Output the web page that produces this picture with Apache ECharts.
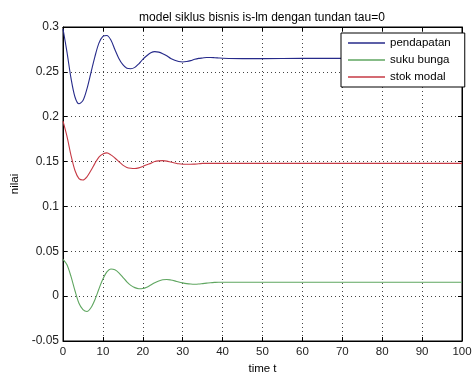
<!DOCTYPE html>
<html>
<head>
<meta charset="utf-8">
<script src="https://cdn.jsdelivr.net/npm/echarts@6/dist/echarts.min.js"></script>
<style>
html,body{margin:0;padding:0;background:#fff;}
#chart{width:472px;height:376px;}
</style>
</head>
<body>
<div id="chart"></div>
<script>
var titleText = 'model siklus bisnis is-lm dengan tundan tau=0';
var seriesNames = ['pendapatan', 'suku bunga', 'stok modal'];
var xTicks = [0, 10, 20, 30, 40, 50, 60, 70, 80, 90, 100];
var yTicks = [-0.05, 0, 0.05, 0.1, 0.15, 0.2, 0.25, 0.3];

var time = [0,1,2,3,4,5,6,7,8,9,10,11,12,13,14,15,16,17,18,19,20,21,22,23,24,25,26,27,28,29,30,31,32,33,34,35,36,37,38,39,40,45,50,60,70,80,90,100];

var pendapatan = [0.298,0.272,0.243,0.222,0.2145,0.218,0.231,0.249,0.267,0.282,0.2895,0.2905,0.2855,0.275,0.265,0.258,0.254,0.2535,0.255,0.259,0.264,0.268,0.2712,0.2725,0.272,0.2703,0.268,0.265,0.263,0.2615,0.261,0.2615,0.2625,0.264,0.265,0.2655,0.266,0.266,0.2658,0.2655,0.2652,0.2648,0.2648,0.265,0.265,0.265,0.265,0.265];

var sukuBunga = [0.041,0.035,0.022,0.006,-0.008,-0.015,-0.0172,-0.013,-0.004,0.008,0.019,0.027,0.0302,0.0293,0.026,0.021,0.016,0.012,0.0095,0.0083,0.0085,0.010,0.0125,0.015,0.017,0.0183,0.0186,0.018,0.017,0.0158,0.0148,0.014,0.0135,0.0133,0.0135,0.014,0.0145,0.015,0.0153,0.0155,0.0155,0.0155,0.0155,0.0155,0.0155,0.0155,0.0155,0.0155];

var stokModal = [0.195,0.178,0.157,0.140,0.131,0.1295,0.133,0.140,0.148,0.155,0.1585,0.1597,0.1575,0.154,0.150,0.146,0.1435,0.1425,0.1422,0.143,0.1445,0.1465,0.148,0.150,0.1508,0.151,0.1505,0.1495,0.1485,0.1475,0.147,0.147,0.147,0.1472,0.1475,0.148,0.148,0.148,0.148,0.148,0.148,0.148,0.148,0.148,0.148,0.148,0.148,0.148];

var colors = ['#262a8a', '#5fa660', '#c63a45'];
var FONT = '"Liberation Sans", Arial, sans-serif';

function pairs(ys) { return time.map(function (t, i) { return [t, ys[i]]; }); }

var gridLine = { show: true, lineStyle: { color: '#444', type: [1, 3], width: 1 } };
var axisLine = { show: true, onZero: false, lineStyle: { color: '#000', width: 1 } };
var tick = { show: true, inside: true, length: 4, lineStyle: { color: '#000' } };

var chart = echarts.init(document.getElementById('chart'), null, { renderer: 'canvas' });
chart.setOption({
  animation: false,
  backgroundColor: '#fff',
  title: {
    text: titleText, left: 257, textAlign: 'center', top: 7,
    textStyle: { fontSize: 12, fontWeight: 'normal', color: '#000', fontFamily: FONT }
  },
  grid: { left: 63, right: 10, top: 27, bottom: 35, containLabel: false, outerBoundsMode: 'none', show: true, borderColor: '#000', borderWidth: 1, backgroundColor: '#fff' },
  legend: {
    data: seriesNames,
    orient: 'vertical',
    left: 341, top: 33,
    backgroundColor: '#fff',
    borderColor: '#000', borderWidth: 1, borderRadius: 0,
    padding: [3, 14, 3, 7],
    itemGap: 3,
    itemWidth: 37, itemHeight: 1.5,
    icon: 'rect',
    textStyle: { fontSize: 11.5, color: '#000', fontFamily: FONT, lineHeight: 14 }
  },
  xAxis: [{
    type: 'value', min: 0, max: 100, interval: 10,
    name: 'time t', nameLocation: 'middle', nameGap: 21,
    nameTextStyle: { fontSize: 11.5, color: '#000', fontFamily: FONT },
    axisLine: axisLine, axisTick: tick, splitLine: gridLine,
    axisLabel: { color: '#222', fontSize: 11.5, fontFamily: FONT, margin: 5,
      formatter: function (v) { return xTicks.indexOf(v) >= 0 ? String(v) : ''; } }
  }, {
    type: 'value', position: 'top', min: 0, max: 100, interval: 10,
    axisLine: axisLine, axisTick: tick, splitLine: { show: false }, axisLabel: { show: false }
  }],
  yAxis: [{
    type: 'value', min: -0.05, max: 0.3, interval: 0.05,
    name: 'nilai', nameLocation: 'middle', nameGap: 37, nameRotate: 90,
    nameTextStyle: { fontSize: 11.5, color: '#000', fontFamily: FONT },
    axisLine: axisLine, axisTick: tick, splitLine: gridLine,
    axisLabel: { color: '#222', fontSize: 12, fontFamily: FONT, margin: 4,
      formatter: function (v) {
        var r = Math.round(v * 100) / 100;
        var hit = yTicks.filter(function (t) { return Math.abs(t - r) < 1e-9; });
        return hit.length ? String(hit[0]) : '';
      } }
  }, {
    type: 'value', position: 'right', min: -0.05, max: 0.3, interval: 0.05,
    axisLine: axisLine, axisTick: tick, splitLine: { show: false }, axisLabel: { show: false }
  }],
  series: [
    { name: seriesNames[0], type: 'line', data: pairs(pendapatan), smooth: 0.3, showSymbol: false, symbol: 'none', color: colors[0], lineStyle: { width: 1.1, color: colors[0] } },
    { name: seriesNames[1], type: 'line', data: pairs(sukuBunga), smooth: 0.3, showSymbol: false, symbol: 'none', color: colors[1], lineStyle: { width: 1.1, color: colors[1] } },
    { name: seriesNames[2], type: 'line', data: pairs(stokModal), smooth: 0.3, showSymbol: false, symbol: 'none', color: colors[2], lineStyle: { width: 1.1, color: colors[2] } }
  ]
});
</script>
</body>
</html>
